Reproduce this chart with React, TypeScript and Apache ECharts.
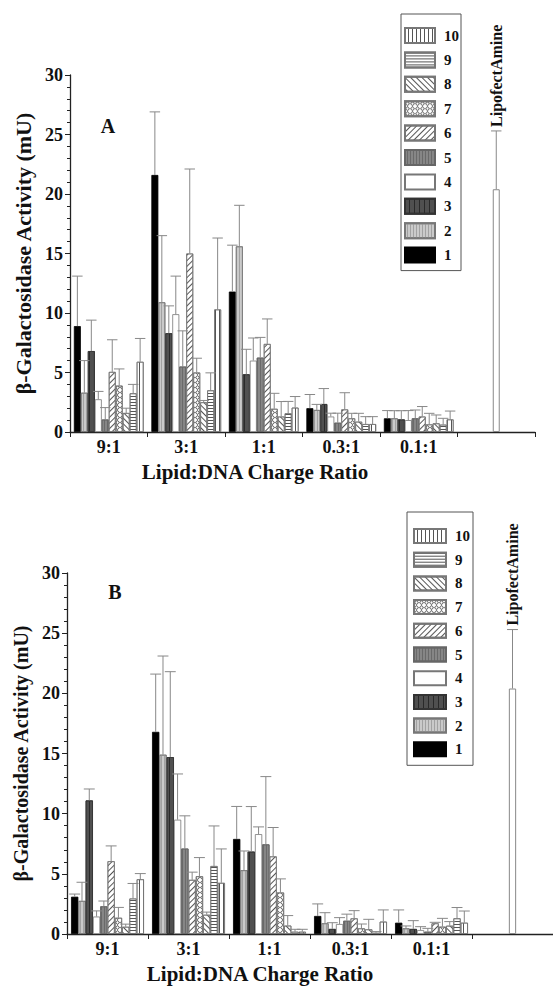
import React, { useEffect, useRef } from "react";
import * as echarts from "echarts";

// ---------- data ----------
const categories = ["9:1", "3:1", "1:1", "0.3:1", "0.1:1", ""];
const groupNames = ["1", "2", "3", "4", "5", "6", "7", "8", "9", "10"];
const legendOrder = [...groupNames].reverse();

// Panel A: mean activity (mU), one row per formulation, one column per charge ratio
const panelAValues = [
  [8.9, 21.6, 11.8, 2.0, 1.15],
  [3.3, 10.9, 15.6, 1.85, 1.15],
  [6.8, 8.3, 4.85, 2.35, 1.06],
  [2.75, 9.9, 6.0, 1.3, 1.0],
  [1.05, 5.5, 6.25, 0.78, 1.15],
  [5.05, 15.0, 7.4, 1.9, 1.3],
  [3.9, 5.0, 1.95, 1.15, 0.64],
  [1.6, 2.5, 1.3, 0.87, 0.73],
  [3.25, 3.5, 1.57, 0.67, 0.62],
  [5.9, 10.3, 2.05, 0.67, 1.06],
];
const panelAErrors = [
  [4.2, 5.3, 3.9, 1.15, 0.65],
  [2.7, 5.6, 3.45, 0.47, 0.64],
  [2.6, 2.3, 2.1, 1.3, 0.73],
  [0.66, 3.2, 1.9, 0.28, 0.8],
  [1.0, 3.0, 1.7, 0.8, 0.7],
  [2.7, 7.1, 2.1, 1.4, 0.84],
  [1.4, 1.2, 1.3, 0.42, 0.93],
  [0.4, 0.15, 1.26, 0.7, 0.7],
  [0.75, 1.47, 1.0, 0.62, 0.53],
  [1.96, 6.0, 0.93, 0.62, 0.7],
];

// Panel B
const panelBValues = [
  [3.1, 16.8, 7.9, 1.5, 0.94],
  [2.75, 14.9, 5.3, 0.89, 0.47],
  [11.1, 14.7, 6.85, 0.42, 0.42],
  [1.45, 9.5, 8.3, 0.83, 0.33],
  [2.3, 7.1, 7.45, 1.1, 0.19],
  [6.05, 4.5, 6.45, 1.3, 0.89],
  [1.35, 4.8, 3.45, 0.47, 0.61],
  [0.6, 1.6, 0.7, 0.39, 0.69],
  [2.95, 5.65, 0.19, 0.1, 1.3],
  [4.55, 4.25, 0.19, 1.03, 0.94],
];
const panelBErrors = [
  [0.22, 4.8, 2.7, 1.0, 1.06],
  [1.55, 8.2, 1.6, 0.88, 0.2],
  [0.95, 7.1, 3.74, 0.52, 0.69],
  [0.47, 3.8, 0.6, 0.53, 0.28],
  [0.44, 2.72, 5.63, 0.55, 0.28],
  [1.27, 0.64, 2.4, 0.64, 0.08],
  [0.86, 1.55, 1.13, 0.36, 0.69],
  [0.22, 0.22, 0.83, 0.83, 0.34],
  [1.25, 3.33, 0.2, 0.1, 0.9],
  [0.47, 2.82, 0.2, 0.97, 0.97],
];

const lipofectLabel = "LipofectAmine";
const lipofectValue = 20.4;
const lipofectError = 4.9;

const yMin = 0;
const yMax = 30;
const yInterval = 5;

const panelLetters = ["A", "B"];
const yTitle = "β-Galactosidase Activity (mU)";
const xTitle = "Lipid:DNA Charge Ratio";

// ---------- styles ----------
const FONT = "Liberation Serif, Times New Roman, serif";
const diamondRing =
  "path://M5,0L10,5L5,10L0,5Z M5,2.2L2.2,5L5,7.8L7.8,5Z";

const barStyles: any[] = [
  { color: "#000", borderColor: "#000", borderWidth: 0.8 },
  {
    color: "#cacaca", borderColor: "#777", borderWidth: 0.8,
    decal: { symbol: "rect", symbolSize: 1, dashArrayX: [1, 0], dashArrayY: [1, 2], rotation: Math.PI / 2, color: "#a2a2a2" },
  },
  {
    color: "#505050", borderColor: "#333", borderWidth: 0.8,
    decal: { symbol: "rect", symbolSize: 1, dashArrayX: [1, 0], dashArrayY: [1, 4], rotation: Math.PI / 2, color: "#2a2a2a" },
  },
  { color: "#fff", borderColor: "#777", borderWidth: 0.8 },
  {
    color: "#868686", borderColor: "#666", borderWidth: 0.8,
    decal: { symbol: "rect", symbolSize: 1, dashArrayX: [1, 0], dashArrayY: [1, 2], rotation: Math.PI / 2, color: "#6a6a6a" },
  },
  {
    color: "#fff", borderColor: "#777", borderWidth: 0.8,
    decal: { symbol: "rect", symbolSize: 1, dashArrayX: [1, 0], dashArrayY: [1, 3], rotation: -Math.PI / 4, color: "#555" },
  },
  {
    color: "#fff", borderColor: "#777", borderWidth: 0.8,
    decal: { symbol: diamondRing, symbolSize: 1, dashArrayX: [5, 0], dashArrayY: [5, 0], rotation: 0, color: "#555" },
  },
  {
    color: "#fff", borderColor: "#777", borderWidth: 0.8,
    decal: { symbol: "rect", symbolSize: 1, dashArrayX: [1, 0], dashArrayY: [1, 3], rotation: Math.PI / 4, color: "#555" },
  },
  {
    color: "#fff", borderColor: "#777", borderWidth: 0.8,
    decal: { symbol: "rect", symbolSize: 1, dashArrayX: [1, 0], dashArrayY: [1, 2], rotation: 0, color: "#555" },
  },
  {
    color: "#fff", borderColor: "#777", borderWidth: 0.8,
    decal: { symbol: "rect", symbolSize: 1, dashArrayX: [1, 0], dashArrayY: [1, 2.5], rotation: Math.PI / 2, color: "#555" },
  },
];

const CAT_GAP = 0.1;

function groupErrorRender(params: any, api: any) {
  const cat = api.value(0);
  const s = api.value(1);
  const v = api.value(2);
  const sd = api.value(3);
  const band = api.size([1, 0])[0];
  const bw = (band * (1 - CAT_GAP)) / groupNames.length;
  const c = api.coord([cat, v]);
  const x = c[0] - (band * (1 - CAT_GAP)) / 2 + bw * (s + 0.5);
  const yTop = api.coord([cat, v + sd])[1];
  const half = bw * 0.75;
  const st = { stroke: "#888", lineWidth: 1 };
  return {
    type: "group",
    children: [
      { type: "line", shape: { x1: x, y1: c[1], x2: x, y2: yTop }, style: st },
      { type: "line", shape: { x1: x - half, y1: yTop, x2: x + half, y2: yTop }, style: st },
    ],
  };
}

function lipofectErrorRender(params: any, api: any) {
  const cat = api.value(0);
  const v = api.value(1);
  const sd = api.value(2);
  const band = api.size([1, 0])[0];
  const bw = band * (1 - CAT_GAP) / groupNames.length;
  const c = api.coord([cat, v]);
  const yTop = api.coord([cat, v + sd])[1];
  const half = bw * 0.75;
  const st = { stroke: "#888", lineWidth: 1 };
  return {
    type: "group",
    children: [
      { type: "line", shape: { x1: c[0], y1: c[1], x2: c[0], y2: yTop }, style: st },
      { type: "line", shape: { x1: c[0] - half, y1: yTop, x2: c[0] + half, y2: yTop }, style: st },
      {
        type: "text",
        x: c[0],
        y: yTop - 4,
        rotation: Math.PI / 2,
        style: {
          text: lipofectLabel,
          fontFamily: FONT,
          fontWeight: "bold",
          fontSize: 16,
          fill: "#111",
          align: "left",
          verticalAlign: "middle",
        },
      },
    ],
  };
}

function buildPanelSeries(p: number, values: number[][], errors: number[][]) {
  const series: any[] = [];
  values.forEach((row, i) => {
    series.push({
      type: "bar",
      name: groupNames[i],
      xAxisIndex: 2 * p,
      yAxisIndex: p,
      data: [...row, null],
      barGap: "0%",
      barCategoryGap: `${CAT_GAP * 100}%`,
      itemStyle: barStyles[i],
      z: 2,
    });
  });
  const errData: any[] = [];
  values.forEach((row, i) => {
    row.forEach((v, c) => errData.push([c, i, v, errors[i][c]]));
  });
  series.push({
    type: "custom",
    name: "err" + p,
    xAxisIndex: 2 * p,
    yAxisIndex: p,
    data: errData,
    encode: { x: 0, y: 2 },
    renderItem: groupErrorRender,
    z: 3,
  });
  const lipoData = categories.map((_, c) => (c === categories.length - 1 ? lipofectValue : null));
  series.push({
    type: "bar",
    name: lipofectLabel,
    xAxisIndex: 2 * p + 1,
    yAxisIndex: p,
    data: lipoData,
    barWidth: `${(1 - CAT_GAP) * 100 / groupNames.length}%`,
    itemStyle: { color: "#fff", borderColor: "#888", borderWidth: 1 },
    z: 2,
  });
  series.push({
    type: "custom",
    name: "lipoErr" + p,
    xAxisIndex: 2 * p + 1,
    yAxisIndex: p,
    data: [[categories.length - 1, lipofectValue, lipofectError]],
    encode: { x: 0, y: 1 },
    renderItem: lipofectErrorRender,
    z: 3,
  });
  return series;
}

function yAxisFor(grid: number, titleSize: number, nameGap: number) {
  return {
    type: "value",
    gridIndex: grid,
    min: yMin,
    max: yMax,
    interval: yInterval,
    name: yTitle,
    nameLocation: "middle",
    nameGap,
    nameRotate: 90,
    nameTextStyle: { fontFamily: FONT, fontWeight: "bold", fontSize: titleSize, color: "#111" },
    axisLine: { show: true, lineStyle: { color: "#222", width: 1.3 } },
    axisTick: { show: true, length: 5, lineStyle: { color: "#222" } },
    minorTick: { show: true, splitNumber: 5, length: 3, lineStyle: { color: "#222" } },
    splitLine: { show: false },
    axisLabel: { fontFamily: FONT, fontWeight: "bold", fontSize: 18, color: "#111", margin: 7 },
  };
}

function xAxesFor(grid: number) {
  return [
    {
      type: "category",
      gridIndex: grid,
      data: categories,
      axisLine: { show: true, lineStyle: { color: "#222", width: 1.3 } },
      axisTick: { show: true, length: 5, interval: 0, lineStyle: { color: "#222" } },
      axisLabel: { fontFamily: FONT, fontWeight: "bold", fontSize: 18, color: "#111", margin: 6, interval: 0 },
    },
    {
      type: "category",
      gridIndex: grid,
      data: categories,
      show: false,
    },
  ];
}

function legendFor(left: number, top: number, padding: number[], w: number, h: number, gap: number) {
  return {
    data: legendOrder,
    orient: "vertical",
    left,
    top,
    padding,
    itemWidth: w,
    itemHeight: h,
    itemGap: gap,
    icon: "rect",
    selectedMode: false,
    borderColor: "#555",
    borderWidth: 1,
    backgroundColor: "#fff",
    textStyle: {
      fontFamily: FONT,
      fontWeight: "bold",
      fontSize: 15,
      lineHeight: h,
      color: "#111",
      padding: [0, 0, 0, 4],
    },
  };
}

function titleText(x: number, y: number, text: string, size: number) {
  return {
    type: "text",
    x,
    y,
    style: { text, fontFamily: FONT, fontWeight: "bold", fontSize: size, fill: "#111", align: "center", verticalAlign: "middle" },
  };
}

export default function App() {
  const ref = useRef<HTMLDivElement>(null);
  useEffect(() => {
    if (!ref.current) return;
    const chart = echarts.init(ref.current, null, { renderer: "svg" });
    const option: any = {
      animation: false,
      backgroundColor: "#fff",
      grid: [
        { left: 70, top: 75, width: 465, height: 357 },
        { left: 67, top: 573, width: 486, height: 361 },
      ],
      xAxis: [...xAxesFor(0), ...xAxesFor(1)],
      yAxis: [yAxisFor(0, 22, 33), yAxisFor(1, 20, 35)],
      legend: [
        legendFor(401, 14, [13, 2, 7, 3], 30, 15, 7.4),
        legendFor(407, 512, [16, 3, 8, 6], 32, 14, 7.7),
      ],
      graphic: [
        titleText(108, 126, panelLetters[0], 20),
        titleText(115, 592, panelLetters[1], 20),
        titleText(255, 472, xTitle, 21),
        titleText(260, 974, xTitle, 21),
      ],
      series: [
        ...buildPanelSeries(0, panelAValues, panelAErrors),
        ...buildPanelSeries(1, panelBValues, panelBErrors),
      ],
    };
    chart.setOption(option);
    return () => chart.dispose();
  }, []);
  return (
    <div
      ref={ref}
      style={{ position: "fixed", left: 0, top: 0, width: 553, height: 986, background: "#fff" }}
    />
  );
}
